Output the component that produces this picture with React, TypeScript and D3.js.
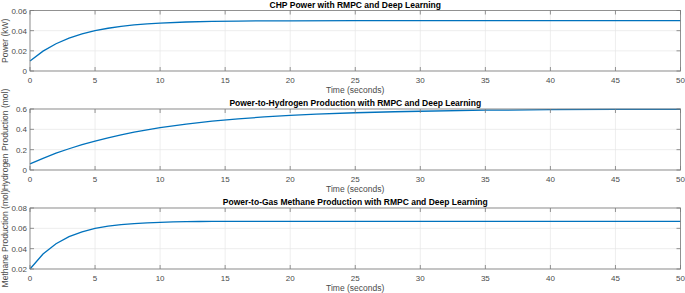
import React from "react";
import * as d3 from "d3";

const chpTime = [0, 1, 2, 3, 4, 5, 6, 7, 8, 9, 10, 12, 14, 16, 18, 20, 25, 30, 40, 50];
const chpPower = [0.010, 0.0197, 0.0270, 0.0326, 0.0368, 0.0400, 0.0424, 0.0443, 0.0457, 0.0467, 0.0475, 0.0486, 0.0492, 0.0495, 0.0497, 0.0498, 0.0499, 0.0500, 0.0500, 0.0500];

const h2Time = [0, 1, 2, 3, 4, 5, 6, 7, 8, 9, 10, 12, 14, 16, 18, 20, 22, 25, 28, 30, 35, 40, 45, 50];
const h2Prod = [0.060, 0.115, 0.165, 0.209, 0.249, 0.285, 0.317, 0.346, 0.372, 0.395, 0.416, 0.452, 0.480, 0.503, 0.522, 0.537, 0.549, 0.563, 0.573, 0.578, 0.588, 0.593, 0.596, 0.597];

const ch4Time = [0, 1, 2, 3, 4, 5, 6, 7, 8, 9, 10, 11, 12, 13, 14, 15, 20, 30, 40, 50];
const ch4Prod = [0.020, 0.0348, 0.0449, 0.0519, 0.0566, 0.0599, 0.0621, 0.0637, 0.0647, 0.0654, 0.0659, 0.0663, 0.0665, 0.0667, 0.0668, 0.0668, 0.0669, 0.0669, 0.0669, 0.0669];

const xTicks = [0, 5, 10, 15, 20, 25, 30, 35, 40, 45, 50];
const chpTicks = [0, 0.02, 0.04, 0.06];
const h2Ticks = [0, 0.2, 0.4, 0.6];
const ch4Ticks = [0.02, 0.04, 0.06, 0.08];

const titles = [
  "CHP Power with RMPC and Deep Learning",
  "Power-to-Hydrogen Production with RMPC and Deep Learning",
  "Power-to-Gas Methane Production with RMPC and Deep Learning",
];
const yLabels = ["Power (kW)", "Hydrogen Production (mol)", "Methane Production (mol)"];

const W = 685;
const H = 293;
const left = 30;
const right = 680.5;
const FONT = "'Liberation Sans', Arial, Helvetica, sans-serif";

type Panel = {
  t: number[];
  v: number[];
  domain: [number, number];
  ticks: number[];
  top: number;
  bottom: number;
  title: string;
  ylabel: string;
};

const panels: Panel[] = [
  { t: chpTime, v: chpPower, domain: [0, 0.06], ticks: chpTicks, top: 10.5, bottom: 71, title: titles[0], ylabel: yLabels[0] },
  { t: h2Time, v: h2Prod, domain: [0, 0.6], ticks: h2Ticks, top: 109, bottom: 170, title: titles[1], ylabel: yLabels[1] },
  { t: ch4Time, v: ch4Prod, domain: [0.02, 0.08], ticks: ch4Ticks, top: 208, bottom: 269, title: titles[2], ylabel: yLabels[2] },
];

function fmt(d: number) {
  return d === 0 ? "0" : String(+d.toFixed(2));
}

function PanelView({ p }: { p: Panel }) {
  const x = d3.scaleLinear().domain([0, 50]).range([left, right]);
  const y = d3.scaleLinear().domain(p.domain).range([p.bottom, p.top]);
  const line = d3
    .line<number>()
    .x((_, i) => x(p.t[i]))
    .y((d) => y(d));
  const axisColor = "#7a7a7a";
  const textColor = "#4a4a4a";
  const tickLen = 4;
  return (
    <g>
      {xTicks.map((t) => (
        <line key={"gx" + t} x1={x(t)} x2={x(t)} y1={p.top} y2={p.bottom} stroke="#e6e6e6" strokeWidth={0.7} />
      ))}
      {p.ticks.map((t) => (
        <line key={"gy" + t} x1={left} x2={right} y1={y(t)} y2={y(t)} stroke="#e6e6e6" strokeWidth={0.7} />
      ))}
      <path d={line(p.v) || ""} fill="none" stroke="#0072BD" strokeWidth={1.3} />
      <rect x={left} y={p.top} width={right - left} height={p.bottom - p.top} fill="none" stroke={axisColor} strokeWidth={0.8} />
      {xTicks.map((t) => (
        <g key={"tx" + t}>
          <line x1={x(t)} x2={x(t)} y1={p.bottom} y2={p.bottom - tickLen} stroke={axisColor} strokeWidth={0.8} />
          <line x1={x(t)} x2={x(t)} y1={p.top} y2={p.top + tickLen} stroke={axisColor} strokeWidth={0.8} />
          <text x={x(t)} y={p.bottom + 11.5} textAnchor="middle" fontSize={8} fill={textColor} fontFamily={FONT}>
            {t}
          </text>
        </g>
      ))}
      {p.ticks.map((t) => (
        <g key={"ty" + t}>
          <line x1={left} x2={left + tickLen} y1={y(t)} y2={y(t)} stroke={axisColor} strokeWidth={0.8} />
          <line x1={right} x2={right - tickLen} y1={y(t)} y2={y(t)} stroke={axisColor} strokeWidth={0.8} />
          <text x={left - 3} y={y(t) + 3} textAnchor="end" fontSize={8} fill={textColor} fontFamily={FONT}>
            {fmt(t)}
          </text>
        </g>
      ))}
      <text x={(left + right) / 2} y={p.top - 3} textAnchor="middle" fontSize={8.5} fontWeight="bold" fill="#000" fontFamily={FONT}>
        {p.title}
      </text>
      <text x={(left + right) / 2} y={p.bottom + 22} textAnchor="middle" fontSize={8.5} fill={textColor} fontFamily={FONT}>
        Time (seconds)
      </text>
      <text
        transform={`translate(8, ${(p.top + p.bottom) / 2}) rotate(-90)`}
        textAnchor="middle"
        fontSize={8.5}
        fill={textColor}
        fontFamily={FONT}
      >
        {p.ylabel}
      </text>
    </g>
  );
}

export default function App() {
  return (
    <svg width={W} height={H} style={{ position: "absolute", left: 0, top: 0, background: "#fff" }}>
      <rect width={W} height={H} fill="#fff" />
      {panels.map((p, i) => (
        <PanelView key={i} p={p} />
      ))}
    </svg>
  );
}
